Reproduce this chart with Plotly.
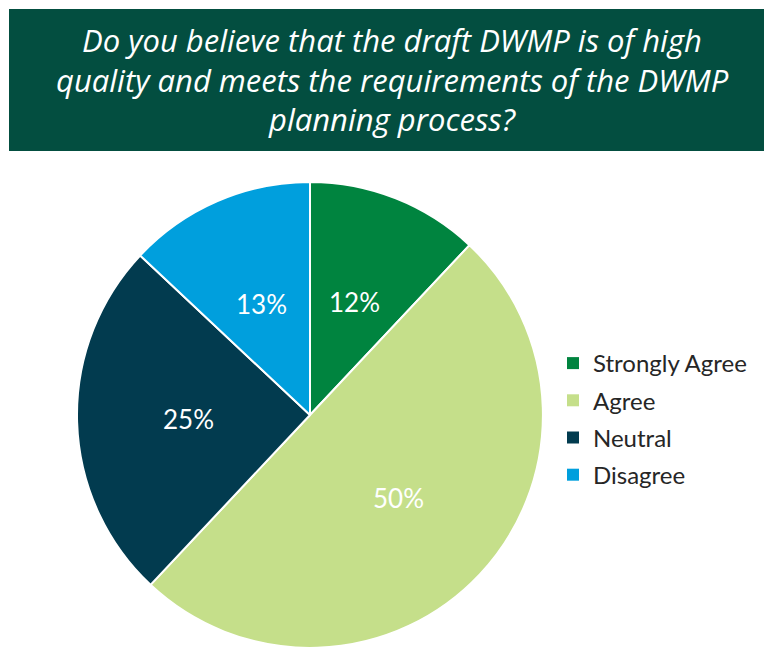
import math
import plotly.graph_objects as go

# Survey responses
categories = ["Strongly Agree", "Agree", "Neutral", "Disagree"]
shares = [12, 50, 25, 13]
slice_colors = ["#00843F", "#C5DF8A", "#023B4F", "#009FDD"]

title_lines = [
    "Do you believe that the draft DWMP is of high",
    "quality and meets the requirements of the DWMP",
    "planning process?",
]

W, H = 764, 648
cx, cy, R = 310, 415, 233  # pie centre and radius in pixels
label_frac = 0.52          # radial position of the percentage labels

fig = go.Figure()

fig.add_trace(go.Pie(
    labels=categories,
    values=shares,
    sort=False,
    direction="clockwise",
    rotation=0,
    marker=dict(colors=slice_colors, line=dict(color="white", width=2)),
    textinfo="none",
    showlegend=False,
    domain=dict(x=[(cx - R) / W, (cx + R) / W],
                y=[max(0.0, (H - cy - R) / H), min(1.0, (H - cy + R) / H)]),
    hoverinfo="label+percent",
))

# Percentage labels placed at the middle angle of each slice
total = sum(shares)
cum = 0
for v in shares:
    theta = math.radians((cum + v / 2) / total * 360)
    cum += v
    px = cx + label_frac * R * math.sin(theta)
    py = cy - label_frac * R * math.cos(theta)
    fig.add_annotation(
        text=f"{v}%", xref="paper", yref="paper",
        x=px / W, y=1 - py / H, xanchor="center", yanchor="middle",
        showarrow=False, font=dict(family="Lato", size=26, color="white"),
    )

# Legend entries as square markers
for name, col in zip(categories, slice_colors):
    fig.add_trace(go.Scatter(
        x=[None], y=[None], mode="markers", name=name,
        legendgroup=name,
        marker=dict(symbol="square", size=12, color=col),
        hoverinfo="skip",
    ))

# Title banner
fig.add_shape(type="rect", xref="paper", yref="paper",
              x0=9 / W, x1=1.0, y0=1 - 151 / H, y1=1 - 9 / H,
              fillcolor="#034E40", line=dict(width=0), layer="below")

for i, line in enumerate(title_lines):
    fig.add_annotation(
        text=line, xref="paper", yref="paper",
        x=392 / W, y=1 - (40 + i * 39.5) / H,
        xanchor="center", yanchor="middle", showarrow=False,
        font=dict(family="Open Sans", size=31, color="white", style="italic"),
    )

fig.update_layout(
    width=W, height=H,
    margin=dict(l=0, r=0, t=0, b=0),
    paper_bgcolor="white",
    plot_bgcolor="white",
    xaxis=dict(visible=False),
    yaxis=dict(visible=False),
    showlegend=True,
    legend=dict(
        x=553 / W, xanchor="left",
        y=1 - 341 / H, yanchor="top",
        font=dict(family="Lato", size=24, color="#262626"),
        bgcolor="rgba(0,0,0,0)",
        tracegroupgap=3,
    ),
)

fig.write_html("out.html")
